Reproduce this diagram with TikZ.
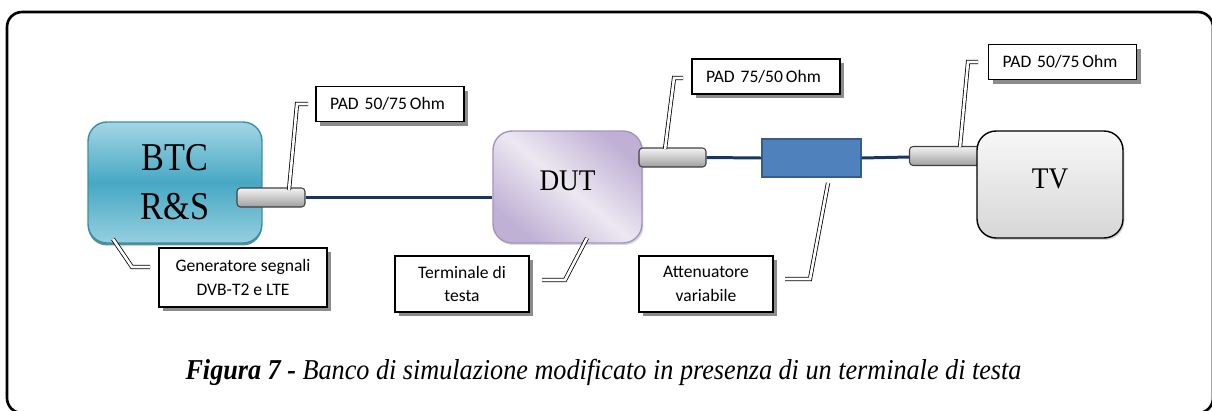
\documentclass[tikz,border=0pt]{standalone}
\usepackage{fontspec}
\setmainfont{Liberation Serif}
\newfontfamily\notefont{Carlito}
\usepackage{xcolor}
\definecolor{cable}{HTML}{17375E}
\definecolor{attfill}{HTML}{4F81BD}
\definecolor{attline}{HTML}{385D8A}
\definecolor{btctop}{HTML}{A3D6E4}
\definecolor{btcmid}{HTML}{47A8C4}
\definecolor{btcline}{HTML}{3A8EA8}
\definecolor{duttop}{HTML}{BFB0D4}
\definecolor{dutmid}{HTML}{ECE8F2}
\definecolor{dutline}{HTML}{A594BE}
\usetikzlibrary{shadows}
\usetikzlibrary{positioning}
\usetikzlibrary{calc}

\tikzset{
	device/.style = {rounded corners=0.38cm, line width=0.8pt, inner sep=0pt},
	padbox/.style = {draw=black!75, line width=0.6pt, rounded corners=2pt, top color=gray!10, bottom color=gray!75, inner sep=0pt, minimum height=0.38cm},
	note/.style = {draw, fill=white, line width=0.8pt, inner sep=0pt, font=\notefont\fontsize{10}{13.6}\selectfont,
		drop shadow={shadow xshift=0.08cm, shadow yshift=-0.08cm, fill=black!45, opacity=1}},
	padnote/.style = {note, text width=2.40cm, inner xsep=0.28cm, align=left, minimum height=0.70cm},
	twonote/.style = {note, align=center},
	leader/.style = {draw=black, line width=0.45pt, double=white, double distance=1.5pt},
	link/.style = {draw=cable, line width=1.7pt}
}

\begin{document}
\begin{tikzpicture}[x=0.02cm, y=-0.02cm]

	\clip (0,0) rectangle (1212,410);
	\draw [line width=1.5pt, rounded corners=0.3cm] (7,12) rectangle (1213,413);

	% apparati
	\node (btc) [device, draw=btcline, top color=btctop, bottom color=btctop!85!btcmid, middle color=btcmid,
		minimum width=3.48cm, minimum height=2.42cm, align=center, font=\fontsize{19.5}{28}\selectfont,
		drop shadow={shadow xshift=0pt, shadow yshift=-0.05cm, fill=btcline!80!black, opacity=0.8}]
		at (175,182.5) {\scalebox{1}[1.15]{BTC}\\\scalebox{1}[1.15]{R\&S}};

	\node (dut) [device, draw=dutline, top color=duttop, bottom color=duttop, middle color=dutmid, shading angle=-40,
		minimum width=2.98cm, minimum height=2.24cm, font=\fontsize{15.5}{18}\selectfont,
		drop shadow={shadow xshift=0.03cm, shadow yshift=-0.04cm, opacity=0.3}]
		at (567.5,187) {\raisebox{0.26cm}{\scalebox{1}[1.1]{DUT}}};

	\node (pad3) [padbox, minimum width=1.50cm] at (947,156) {};

	\node (tv) [device, draw=black, top color=gray!6, bottom color=gray!32,
		minimum width=2.92cm, minimum height=2.14cm, font=\fontsize{15.5}{18}\selectfont,
		drop shadow={shadow xshift=0.03cm, shadow yshift=-0.04cm, opacity=0.3}]
		at (1050,184.5) {\raisebox{0.22cm}{\scalebox{1}[1.1]{TV}}};

	\node (pad1) [padbox, minimum width=1.36cm] at (271,197.5) {};
	\node (pad2) [padbox, minimum width=1.34cm] at (672.5,157.5) {};
	\node (att) [draw=attline, fill=attfill, line width=0.8pt, inner sep=0pt, minimum width=1.98cm, minimum height=0.76cm] at (811.5,158) {};

	% cavi
	\draw [link] (pad1.east) -- (pad1.east -| dut.west);
	\draw [link] (pad2.east) -- (att.west);
	\draw [link] (att.east) -- ([yshift=-0.02cm]pad3.west);

	% etichette
	\node (lpad1) [padnote] at (390,104) {PAD 50/75\,Ohm};
	\node (lpad2) [padnote] at (766,76.5) {PAD 75/50\,Ohm};
	\node (lpad3) [padnote] at (1062.5,62) {PAD 50/75\,Ohm};
	\node (lgen) [twonote, minimum width=3.36cm, minimum height=1.18cm] at (243,277.5) {Generatore segnali\\DVB-T2 e LTE};
	\node (lterm) [twonote, minimum width=2.68cm, minimum height=1.12cm] at (462,284) {Terminale di\\testa};
	\node (latt) [twonote, minimum width=2.68cm, minimum height=1.12cm] at (706,284) {Attenuatore\\variabile};

	% richiami
	\coordinate (k1a) at (289,190);  \coordinate (k1b) at (297,104);  \coordinate (k1c) at (308,104);
	\coordinate (k2a) at (113,239);  \coordinate (k2b) at (132,267);  \coordinate (k2c) at (150,267);
	\coordinate (k3a) at (665,149);  \coordinate (k3b) at (674,78);   \coordinate (k3c) at (683,78);
	\coordinate (k4a) at (587,238);  \coordinate (k4b) at (565,280);  \coordinate (k4c) at (542,280);
	\coordinate (k5a) at (828,183);  \coordinate (k5b) at (810,279);  \coordinate (k5c) at (785,279);
	\coordinate (k6a) at (960,147);  \coordinate (k6b) at (968,62);   \coordinate (k6c) at (978,62);

	\draw [leader] (k1a) -- (k1b) -- (k1c);
	\draw [leader] (k2a) -- (k2b) -- (k2c);
	\draw [leader] (k3a) -- (k3b) -- (k3c);
	\draw [leader] (k4a) -- (k4b) -- (k4c);
	\draw [leader] (k5a) -- (k5b) -- (k5c);
	\draw [leader] (k6a) -- (k6b) -- (k6c);

	% didascalia
	\node (caption) at (603.5,372) {\fontsize{14.9}{16}\selectfont\scalebox{1}[1.1]{\textbf{\textit{Figura 7 -}} \textit{Banco di simulazione modificato in presenza di un terminale di testa}}};

\end{tikzpicture}
\end{document}
